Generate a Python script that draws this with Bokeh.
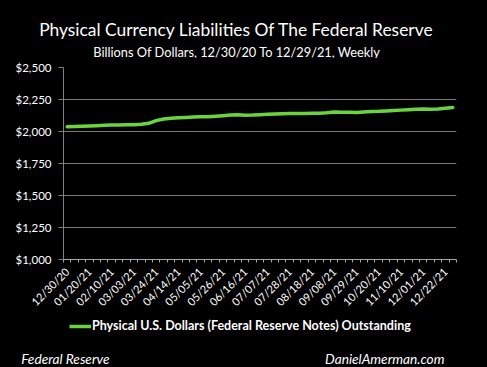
from bokeh.plotting import figure
from bokeh.layouts import column
from bokeh.models import (Range1d, FixedTicker, NumeralTickFormatter, Label,
                          Legend, LegendItem)
from bokeh.embed import file_html
from bokeh.resources import INLINE
import math

weeks = ["12/30/20", "01/06/21", "01/13/21", "01/20/21", "01/27/21", "02/03/21",
         "02/10/21", "02/17/21", "02/24/21", "03/03/21", "03/10/21", "03/17/21",
         "03/24/21", "03/31/21", "04/07/21", "04/14/21", "04/21/21", "04/28/21",
         "05/05/21", "05/12/21", "05/19/21", "05/26/21", "06/02/21", "06/09/21",
         "06/16/21", "06/23/21", "06/30/21", "07/07/21", "07/14/21", "07/21/21",
         "07/28/21", "08/04/21", "08/11/21", "08/18/21", "08/25/21", "09/01/21",
         "09/08/21", "09/15/21", "09/22/21", "09/29/21", "10/06/21", "10/13/21",
         "10/20/21", "10/27/21", "11/03/21", "11/10/21", "11/17/21", "11/24/21",
         "12/01/21", "12/08/21", "12/15/21", "12/22/21", "12/29/21"]

currency = [2037, 2039, 2041, 2043, 2045, 2048, 2050, 2051, 2052, 2053,
            2056, 2064, 2085, 2098, 2104, 2107, 2110, 2113, 2115, 2116,
            2119, 2123, 2128, 2130, 2127, 2128, 2131, 2134, 2137, 2139,
            2141, 2141, 2141, 2142, 2142, 2146, 2152, 2151, 2150, 2149,
            2153, 2157, 2158, 2161, 2164, 2167, 2170, 2173, 2175, 2173,
            2176, 2182, 2188]

tick_labels = ["12/30/20", "01/20/21", "02/10/21", "03/03/21", "03/24/21",
               "04/14/21", "05/05/21", "05/26/21", "06/16/21", "07/07/21",
               "07/28/21", "08/18/21", "09/08/21", "09/29/21", "10/20/21",
               "11/10/21", "12/01/21", "12/22/21"]

y_ticks = [1000, 1250, 1500, 1750, 2000, 2250, 2500]

TITLE = "Physical Currency Liabilities Of The Federal Reserve"
SUBTITLE = "Billions Of Dollars, 12/30/20 To 12/29/21, Weekly"
SERIES = "Physical U.S. Dollars (Federal Reserve Notes) Outstanding"
SOURCE = "Federal Reserve"
SITE = "DanielAmerman.com"

GREEN = "#6ad43c"
W = 487
H_TOP, H_MAIN, H_BOT = 58, 260, 49


def blank(h):
    f = figure(width=W, height=h, output_backend="svg", toolbar_location=None,
               x_axis_type=None, y_axis_type=None, min_border=0,
               x_range=Range1d(0, 1), y_range=Range1d(0, 1))
    f.background_fill_color = "black"
    f.border_fill_color = "black"
    f.outline_line_color = None
    f.grid.grid_line_color = None
    if "frame_align" in f.properties():
        f.frame_align = False
    return f


# ---- header (screen px: x from left, y from bottom) ----
top = blank(H_TOP)
top.add_layout(Label(x=236, y=H_TOP - 28.5, x_units="screen",
                     y_units="screen", text=TITLE, text_align="center",
                     text_baseline="alphabetic", text_color="white",
                     text_font="Lato", text_font_size="17.4px"))
top.add_layout(Label(x=236.5, y=H_TOP - 51, x_units="screen",
                     y_units="screen", text=SUBTITLE, text_align="center",
                     text_baseline="alphabetic", text_color="white",
                     text_font="Lato", text_font_size="12.8px"))

# ---- main chart ----
x_idx = list(range(len(weeks)))
tick_idx = [weeks.index(t) for t in tick_labels]

p = figure(width=W, height=H_MAIN, output_backend="svg", toolbar_location=None,
           x_range=Range1d(-0.5, len(weeks) - 0.5), y_range=Range1d(1000, 2500),
           min_border_left=63, min_border_right=31, min_border_top=9,
           min_border_bottom=H_MAIN - 9 - 192)
p.background_fill_color = "black"
p.border_fill_color = "black"
p.outline_line_color = None
if "frame_align" in p.properties():
    p.frame_align = False

r = p.line(x_idx, currency, line_color=GREEN, line_width=3.5,
           line_join="round", line_cap="round")

xa = p.xaxis[0]
xa.ticker = FixedTicker(ticks=tick_idx,
                        minor_ticks=[i - 0.5 for i in range(len(weeks) + 1)])
xa.major_label_overrides = {i: weeks[i] for i in tick_idx}
xa.major_label_orientation = math.pi / 4
xa.major_label_text_color = "white"
xa.major_label_text_font = "Lato"
xa.major_label_text_font_size = "11px"
xa.major_label_standoff = 4
xa.axis_line_color = "#a6a6a6"
xa.major_tick_line_color = None
xa.minor_tick_line_color = "#a6a6a6"
xa.minor_tick_in = 0
xa.minor_tick_out = 3

ya = p.yaxis[0]
ya.ticker = FixedTicker(ticks=y_ticks)
ya.formatter = NumeralTickFormatter(format="$0,0")
ya.major_label_text_color = "white"
ya.major_label_text_font = "Lato"
ya.major_label_text_font_size = "11.5px"
ya.axis_line_color = "#808080"
ya.major_tick_line_color = "#808080"
ya.major_tick_in = 0
ya.major_tick_out = 5
ya.minor_tick_line_color = None
ya.major_label_standoff = 7

p.xgrid.grid_line_color = None
p.ygrid.grid_line_color = "#7a7a7a"
p.ygrid.grid_line_width = 1

# ---- legend + footer ----
bot = blank(H_BOT)
# same series, drawn outside this strip's visible range; only its legend shows
r_leg = bot.line(x_idx, currency, line_color=GREEN, line_width=3.5)
legend = Legend(items=[LegendItem(label=SERIES, renderers=[r_leg])],
                location=(69, H_BOT - 15))
legend.background_fill_alpha = 0
legend.border_line_color = None
legend.padding = 0
legend.margin = 0
legend.spacing = 0
legend.glyph_width = 22
legend.glyph_height = 14
legend.label_height = 14
legend.label_text_color = "white"
legend.label_text_font = "Lato"
legend.label_text_font_style = "bold"
legend.label_text_font_size = "12.5px"
legend.label_standoff = 1
bot.add_layout(legend)

bot.add_layout(Label(x=20.7, y=H_BOT - 39.7, x_units="screen",
                     y_units="screen", text=SOURCE, text_align="left",
                     text_baseline="alphabetic", text_color="white",
                     text_font="Lato", text_font_style="italic",
                     text_font_size="13.7px"))
bot.add_layout(Label(x=444, y=H_BOT - 39.7, x_units="screen",
                     y_units="screen", text=SITE, text_align="right",
                     text_baseline="alphabetic", text_color="white",
                     text_font="Lato", text_font_style="italic",
                     text_font_size="13.7px"))

layout = column(top, p, bot, spacing=0)
layout.styles = {"background-color": "black"}

open("out.html", "w").write(file_html(layout, INLINE))
